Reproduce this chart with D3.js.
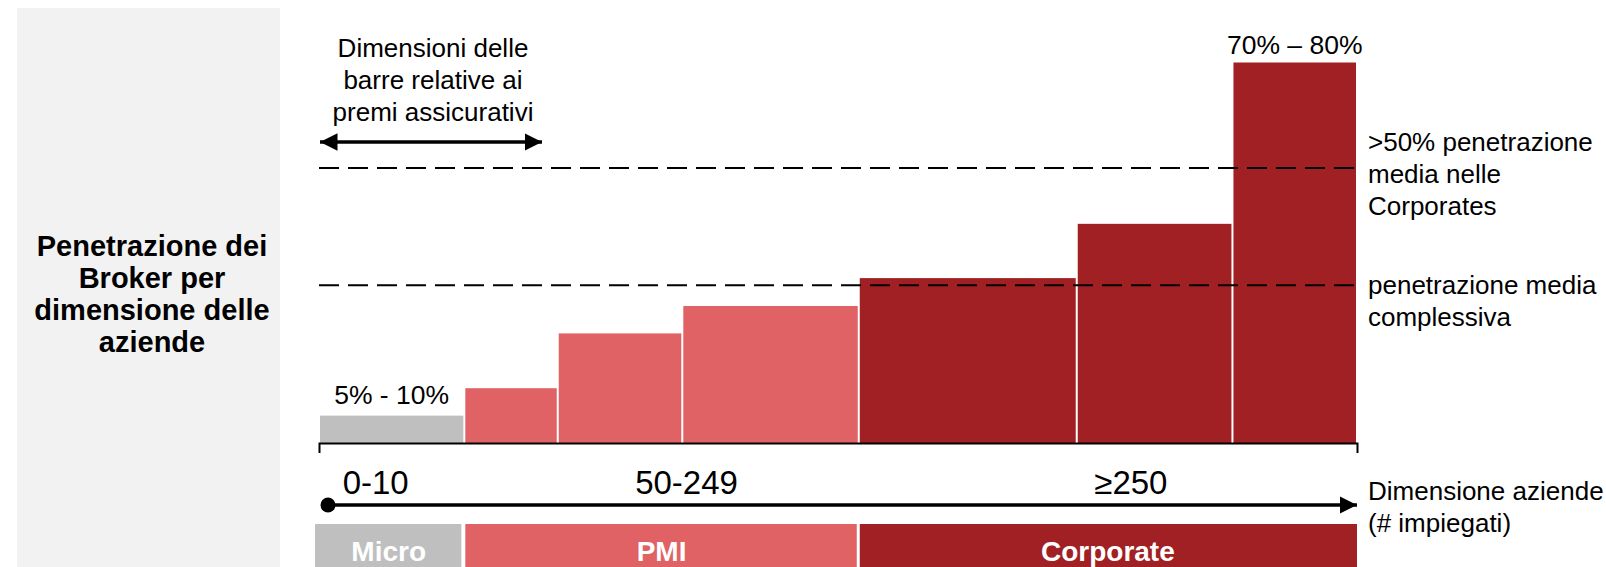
<!DOCTYPE html>
<html>
<head>
<meta charset="utf-8">
<script src="https://cdn.jsdelivr.net/npm/d3@7"></script>
<style>
  html, body { margin: 0; padding: 0; background: #ffffff; }
  svg { display: block; font-family: "Liberation Sans", Arial, sans-serif; }
</style>
</head>
<body>
<svg id="chart" width="1606" height="567"></svg>
<script>
// ---------------- DATA ----------------
const segmentNames   = ["Micro", "PMI-1", "PMI-2", "PMI-3", "Corp-1", "Corp-2", "Corp-3"];
const segmentGroup   = ["Micro", "PMI", "PMI", "PMI", "Corporate", "Corporate", "Corporate"];
const premiumShare   = [14, 9, 12, 17, 21, 15, 12];              // bar widths (share of premiums)
const penetration    = [5.4, 10.8, 21.6, 27.0, 32.5, 43.2, 75];  // bar heights (broker penetration)
const groups         = ["Micro", "PMI", "Corporate"];
const groupRangeLbl  = ["0-10", "50-249", "≥250"];
const avgCorporate   = 54.2;   // ">50% penetrazione media nelle Corporates"
const avgOverall     = 31.1;   // "penetrazione media complessiva"
const lowLabel       = "5% - 10%";
const highLabel      = "70% – 80%";
const titleLines     = ["Penetrazione dei", "Broker per", "dimensione delle", "aziende"];
const noteLines      = ["Dimensioni delle", "barre relative ai", "premi assicurativi"];
const corpNoteLines  = [">50% penetrazione", "media nelle", "Corporates"];
const avgNoteLines   = ["penetrazione media", "complessiva"];
const axisNoteLines  = ["Dimensione aziende", "(# impiegati)"];

const groupColor = { "Micro": "#bfbfbf", "PMI": "#e06264", "Corporate": "#a12023" };

// ---------------- LAYOUT ----------------
const svg = d3.select("#chart");
const x0 = 319, x1 = 1357, baseY = 443, topY = 62.5;
const LH = 32;

const cum = [0];
premiumShare.forEach((w, i) => cum.push(cum[i] + w));
const x = d3.scaleLinear().domain([0, d3.sum(premiumShare)]).range([x0, x1]);
const y = d3.scaleLinear().domain([0, 75]).range([baseY, topY]);

// Left grey title panel
svg.append("rect").attr("x", 17).attr("y", 8).attr("width", 263).attr("height", 559).attr("fill", "#f2f2f2");
svg.append("text")
  .attr("x", 152).attr("y", 256)
  .attr("text-anchor", "middle")
  .attr("font-size", 29).attr("font-weight", "bold").attr("fill", "#000")
  .selectAll("tspan").data(titleLines).join("tspan")
  .attr("x", 152).attr("dy", (d, i) => i === 0 ? 0 : LH).text(d => d);

// Bars
const bars = segmentNames.map((n, i) => ({ name: n, group: segmentGroup[i], a: cum[i], b: cum[i + 1], v: penetration[i] }));
svg.append("g").selectAll("rect").data(bars).join("rect")
  .attr("x", d => x(d.a) + 1)
  .attr("width", d => x(d.b) - x(d.a) - 2)
  .attr("y", d => y(d.v))
  .attr("height", d => y(0) - y(d.v))
  .attr("fill", d => groupColor[d.group]);

// Bracket axis under the bars
const axis = d3.axisBottom(x).tickValues([]).tickSizeOuter(10);
const ag = svg.append("g").attr("transform", `translate(0,${baseY})`).call(axis);
ag.select(".domain").attr("stroke", "#000").attr("stroke-width", 2);

// Dashed reference lines
[avgCorporate, avgOverall].forEach(v => {
  svg.append("line")
    .attr("x1", x0).attr("x2", x1)
    .attr("y1", y(v)).attr("y2", y(v))
    .attr("stroke", "#000").attr("stroke-width", 2)
    .attr("stroke-dasharray", "20,9");
});

// Bar value labels
svg.append("text").attr("x", (x(cum[0]) + x(cum[1])) / 2).attr("y", y(penetration[0]) - 12)
  .attr("text-anchor", "middle").attr("font-size", 26.5).text(lowLabel);
svg.append("text").attr("x", (x(cum[6]) + x(cum[7])) / 2).attr("y", y(penetration[6]) - 9)
  .attr("text-anchor", "middle").attr("font-size", 26.5).text(highLabel);

// Right annotations
const rightX = 1368;
function multiline(lines, xx, yFirst, size, anchor) {
  const t = svg.append("text").attr("x", xx).attr("y", yFirst).attr("font-size", size)
    .attr("fill", "#000").attr("text-anchor", anchor || "start");
  t.selectAll("tspan").data(lines).join("tspan").attr("x", xx).attr("dy", (d, i) => i === 0 ? 0 : LH).text(d => d);
  return t;
}
multiline(corpNoteLines, rightX, 151, 26);
multiline(avgNoteLines, rightX, 294, 26);
multiline(axisNoteLines, rightX, 500, 26);

// Top-left note with double arrow
multiline(noteLines, 433, 57, 26, "middle");

const defs = svg.append("defs");
defs.append("marker").attr("id", "ah").attr("viewBox", "0 0 10 10").attr("refX", 10).attr("refY", 5)
  .attr("markerWidth", 5).attr("markerHeight", 5).attr("markerUnits", "strokeWidth").attr("orient", "auto-start-reverse")
  .append("path").attr("d", "M0,0L10,5L0,10Z").attr("fill", "#000");

svg.append("line").attr("x1", 320).attr("x2", 542).attr("y1", 142).attr("y2", 142)
  .attr("stroke", "#000").attr("stroke-width", 3.5)
  .attr("marker-start", "url(#ah)").attr("marker-end", "url(#ah)");

// Size arrow with range labels
const arrowY = 505;
svg.append("line").attr("x1", x0 + 9).attr("x2", x1).attr("y1", arrowY).attr("y2", arrowY)
  .attr("stroke", "#000").attr("stroke-width", 3.5).attr("marker-end", "url(#ah)");
svg.append("circle").attr("cx", x0 + 9).attr("cy", arrowY).attr("r", 7.5).attr("fill", "#000");

const groupSpan = groups.map(g => {
  const idx = segmentGroup.map((s, i) => s === g ? i : -1).filter(i => i >= 0);
  return { g, a: cum[idx[0]], b: cum[idx[idx.length - 1] + 1] };
});
const rangeDx = [-16, 25, 23];
svg.append("g").selectAll("text").data(groupSpan).join("text")
  .attr("x", (d, i) => (x(d.a) + x(d.b)) / 2 + rangeDx[i]).attr("y", 494)
  .attr("text-anchor", "middle").attr("font-size", 33).text((d, i) => groupRangeLbl[i]);

// Category boxes at the bottom
const boxG = svg.append("g");
boxG.selectAll("rect").data(groupSpan).join("rect")
  .attr("x", (d, i) => x(d.a) + (i === 0 ? -4 : 1))
  .attr("width", (d, i) => x(d.b) - x(d.a) - 3 + (i === 0 ? 4 : 0) + (i === 2 ? 2 : 0))
  .attr("y", 524).attr("height", 43)
  .attr("fill", d => groupColor[d.g]);
boxG.selectAll("text").data(groupSpan).join("text")
  .attr("x", (d, i) => (x(d.a) + x(d.b)) / 2 - (i === 0 ? 3 : 0)).attr("y", 561)
  .attr("text-anchor", "middle").attr("font-size", 28).attr("font-weight", "bold").attr("fill", "#fff")
  .text(d => d.g);
</script>
</body>
</html>
